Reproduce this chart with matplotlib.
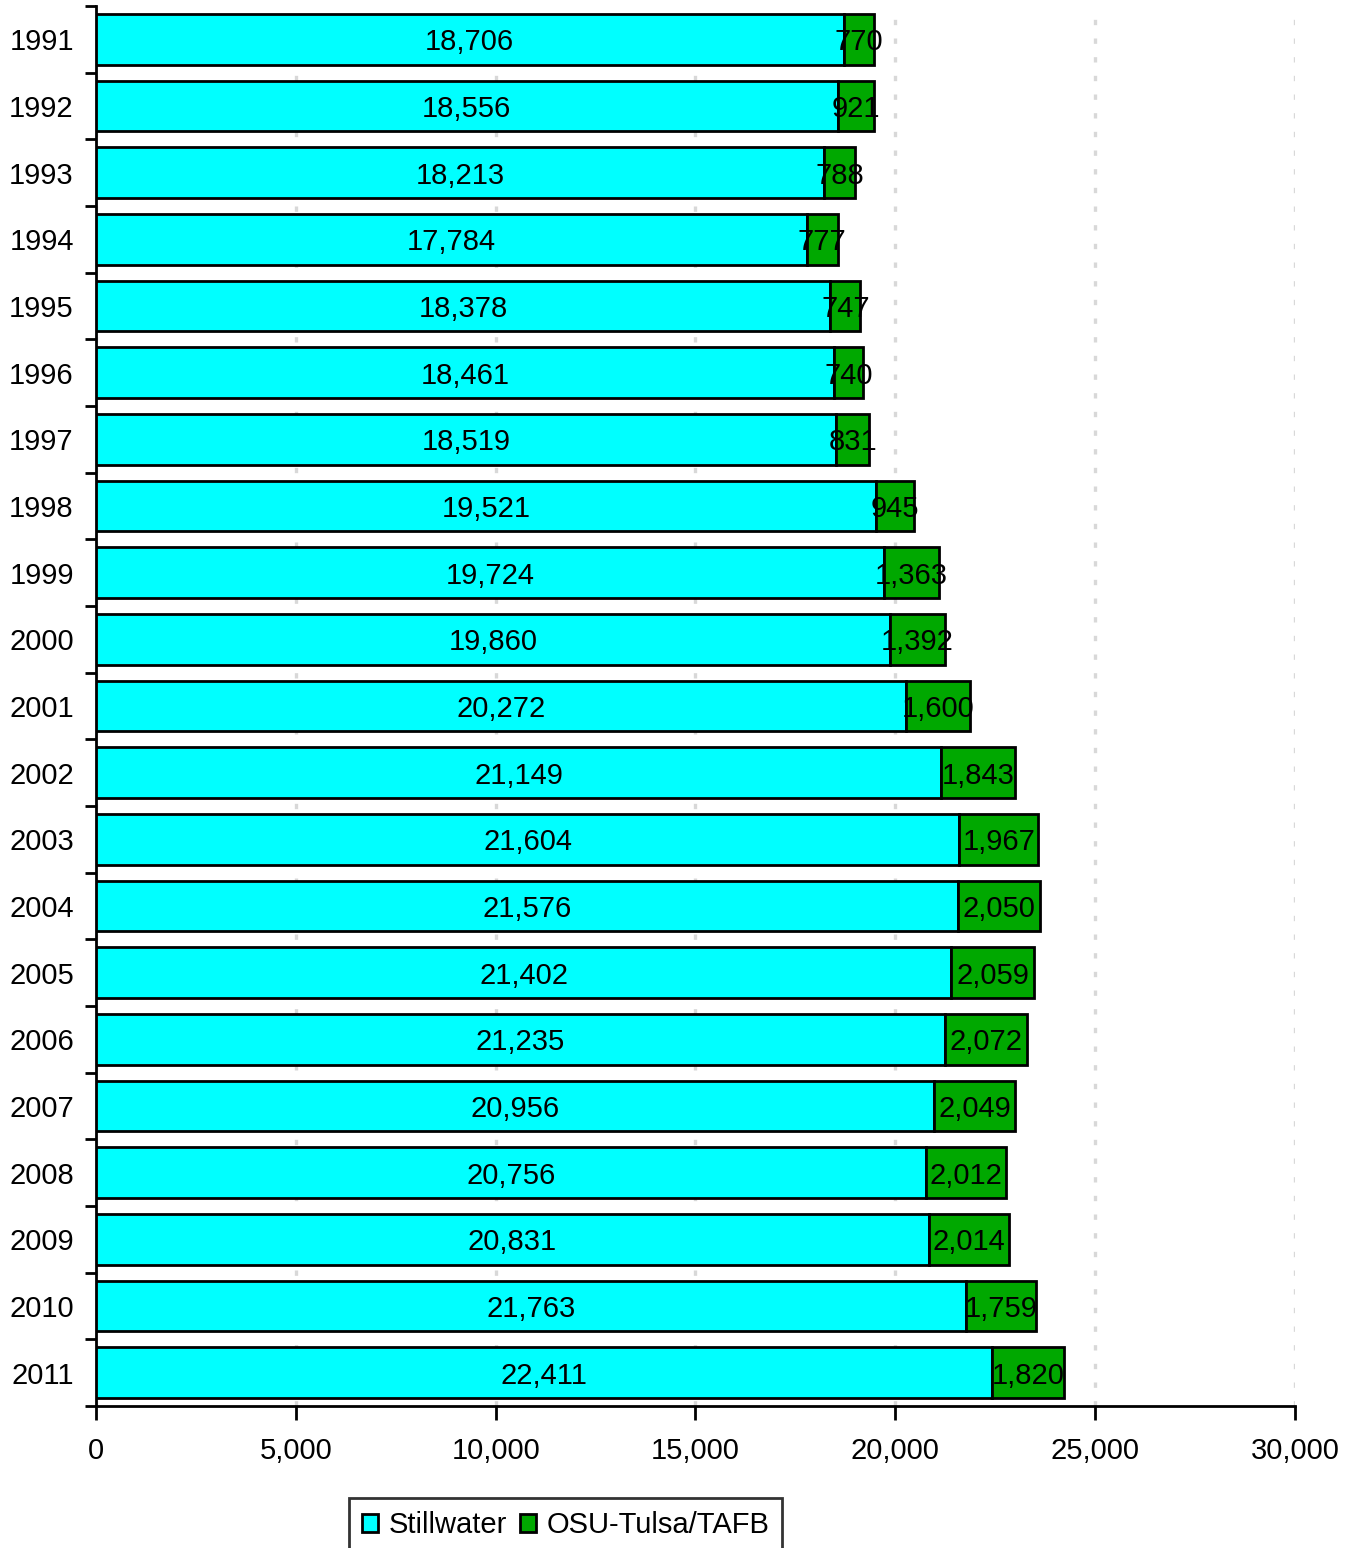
import numpy as np
import matplotlib
matplotlib.use('Agg')
import matplotlib.pyplot as plt

plt.rcParams['font.family'] = ['Liberation Sans', 'DejaVu Sans']

years = [str(y) for y in range(1991, 2012)]
stillwater = [18706, 18556, 18213, 17784, 18378, 18461, 18519, 19521, 19724, 19860,
              20272, 21149, 21604, 21576, 21402, 21235, 20956, 20756, 20831, 21763, 22411]
tulsa = [770, 921, 788, 777, 747, 740, 831, 945, 1363, 1392,
         1600, 1843, 1967, 2050, 2059, 2072, 2049, 2012, 2014, 1759, 1820]

fig = plt.figure(figsize=(13.54, 15.48), dpi=100)
ax = fig.add_axes([0.0709, 0.0917, 0.8855, 0.9044])

y = np.arange(len(years))
sw = np.array(stillwater)
tu = np.array(tulsa)

b1 = ax.barh(y, sw, height=0.76, color='#00FFFF', edgecolor='black', linewidth=2,
             label='Stillwater', zorder=3)
b2 = ax.barh(y, tu, left=sw, height=0.76, color='#00A800', edgecolor='black', linewidth=2,
             label='OSU-Tulsa/TAFB', zorder=3)

# value labels centred in each segment
for i in range(len(years)):
    ax.text(sw[i] / 2, y[i], f'{sw[i]:,}', ha='center', va='center_baseline', fontsize=21, zorder=4)
    ax.text(sw[i] + tu[i] / 2, y[i], f'{tu[i]:,}', ha='center', va='center_baseline', fontsize=21, zorder=4)

ax.set_xlim(0, 30000)
ax.set_ylim(len(years) - 0.5, -0.5)
ax.set_xticks(np.arange(0, 30001, 5000))
ax.set_xticklabels([f'{v:,}' for v in range(0, 30001, 5000)], fontsize=21)
ax.set_yticks(y)
ax.set_yticklabels(years, fontsize=21)
ax.set_yticks(np.arange(-0.5, len(years)), minor=True)
ax.tick_params(axis='y', which='major', length=0, pad=16)
ax.tick_params(axis='y', which='minor', length=8, width=2, direction='out')
ax.tick_params(axis='x', which='major', length=10, width=2, direction='out', pad=12)

ax.xaxis.grid(True, color='#d8d8d8', linestyle=(0, (1.6, 4)), linewidth=2.4, zorder=0)
ax.set_axisbelow(True)

for s in ['top', 'right']:
    ax.spines[s].set_visible(False)
for s in ['left', 'bottom']:
    ax.spines[s].set_linewidth(2)

leg = fig.legend(handles=[b1, b2], loc='upper left', bbox_to_anchor=(0.258, 0.0323),
                 ncol=2, fontsize=21, frameon=True, fancybox=False, edgecolor='black',
                 handlelength=0.55, handleheight=0.6, handletextpad=0.35, columnspacing=0.45,
                 borderpad=0.45, borderaxespad=0)
leg.get_frame().set_linewidth(2)

fig.savefig('out.png', dpi=100)
